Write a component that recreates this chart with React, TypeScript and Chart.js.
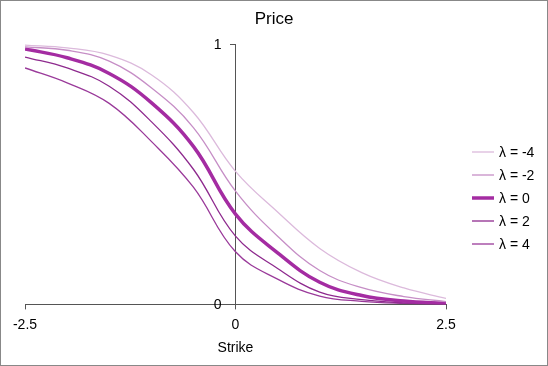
import React, { useEffect, useRef } from "react";
import { Chart, registerables } from "chart.js";

Chart.register(...registerables);

const strikes = [-2.5, -2, -1.5, -1, -0.5, 0, 0.5, 1, 1.5, 2, 2.5];
const seriesLabels = ["λ = -4", "λ = -2", "λ = 0", "λ = 2", "λ = 4"];
const priceLm4 = [0.996, 0.985, 0.957, 0.882, 0.737, 0.511, 0.355, 0.215, 0.122, 0.063, 0.023];
const priceLm2 = [0.989, 0.976, 0.934, 0.832, 0.679, 0.435, 0.262, 0.13, 0.064, 0.03, 0.011];
const priceL0 = [0.981, 0.947, 0.887, 0.775, 0.607, 0.347, 0.198, 0.085, 0.034, 0.013, 0.004];
const priceL2 = [0.95, 0.908, 0.838, 0.702, 0.519, 0.262, 0.138, 0.047, 0.018, 0.006, 0.002];
const priceL4 = [0.908, 0.851, 0.772, 0.626, 0.45, 0.202, 0.097, 0.032, 0.012, 0.004, 0.001];
const xTicks = [-2.5, 0, 2.5];
const yTicks = [0, 1];
const chartTitle = "Price";
const xTitle = "Strike";

const seriesValues = [priceLm4, priceLm2, priceL0, priceL2, priceL4];
const seriesColors = ["#dcbadc", "#c68ec6", "#a42ca2", "#8e2a8e", "#9a3a9a"];
const seriesWidths = [1.3, 1.3, 3.5, 1.3, 1.3];

const FONT = "'Liberation Sans', Arial, Helvetica, sans-serif";

const decorations = {
  id: "decorations",
  afterDraw(chart: any) {
    const ctx = chart.ctx;
    ctx.save();
    ctx.fillStyle = "#000";
    ctx.font = `17px ${FONT}`;
    ctx.textAlign = "center";
    ctx.textBaseline = "middle";
    ctx.fillText(chartTitle, chart.width / 2, 18);

    const ys = chart.scales.y;
    const xs = chart.scales.x;
    const axisX = xs.getPixelForValue(0);
    ctx.font = `14px ${FONT}`;
    ctx.textAlign = "right";
    yTicks.forEach((v) => {
      ctx.fillText(String(v), axisX - 14, ys.getPixelForValue(v) + 1);
    });

    const x0 = chart.chartArea.right + 26;
    const lineLen = 22;
    const gap = 23;
    const yStart = 151;
    chart.data.datasets.forEach((ds: any, i: number) => {
      const y = yStart + i * gap;
      ctx.strokeStyle = ds.borderColor;
      ctx.lineWidth = ds.borderWidth;
      ctx.beginPath();
      ctx.moveTo(x0, y);
      ctx.lineTo(x0 + lineLen, y);
      ctx.stroke();
      ctx.fillStyle = "#000";
      ctx.font = `14px ${FONT}`;
      ctx.textAlign = "left";
      ctx.textBaseline = "middle";
      ctx.fillText(ds.label, x0 + lineLen + 5, y + 1);
    });
    ctx.restore();
  },
};

export default function App() {
  const ref = useRef<HTMLCanvasElement | null>(null);

  useEffect(() => {
    document.body.style.margin = "0";
    const canvas = ref.current;
    if (!canvas) return;
    const chart = new Chart(canvas, {
      type: "line",
      data: {
        datasets: seriesValues.map((vals, i) => ({
          label: seriesLabels[i],
          data: strikes.map((x, j) => ({ x, y: vals[j] })),
          borderColor: seriesColors[i],
          backgroundColor: seriesColors[i],
          borderWidth: seriesWidths[i],
          pointRadius: 0,
          tension: 0.4,
          fill: false,
        })),
      },
      options: {
        animation: false,
        responsive: false,
        maintainAspectRatio: false,
        layout: { padding: { left: 24, right: 101, top: 43, bottom: 8 } },
        plugins: {
          legend: { display: false },
          tooltip: { enabled: false },
          title: { display: false },
        },
        scales: {
          x: {
            type: "linear",
            position: "bottom",
            min: -2.5,
            max: 2.5,
            afterBuildTicks: (scale: any) => {
              scale.ticks = xTicks.map((v) => ({ value: v }));
            },
            grid: { drawOnChartArea: false, drawTicks: true, tickLength: 5, color: "#555" },
            border: { display: true, color: "#555", width: 1 },
            ticks: {
              color: "#000",
              padding: 7,
              maxRotation: 0,
              font: { family: FONT, size: 14 },
              callback: (v: any) => String(v),
            },
            title: {
              display: true,
              text: xTitle,
              color: "#000",
              font: { family: FONT, size: 14 },
              padding: { top: 0, bottom: 0 },
            },
          },
          y: {
            type: "linear",
            position: { x: 0 } as any,
            min: 0,
            max: 1,
            afterBuildTicks: (scale: any) => {
              scale.ticks = yTicks.map((v) => ({ value: v }));
            },
            grid: { drawOnChartArea: false, drawTicks: true, tickLength: 5, color: "#555" },
            border: { display: true, color: "#555", width: 1 },
            ticks: { display: false },
          },
        },
      },
      plugins: [decorations],
    });
    return () => chart.destroy();
  }, []);

  return (
    <div
      style={{
        width: 548,
        height: 366,
        border: "1px solid #888",
        boxSizing: "border-box",
        background: "#fff",
      }}
    >
      <canvas ref={ref} width={546} height={364} style={{ display: "block", width: 546, height: 364 }} />
    </div>
  );
}
